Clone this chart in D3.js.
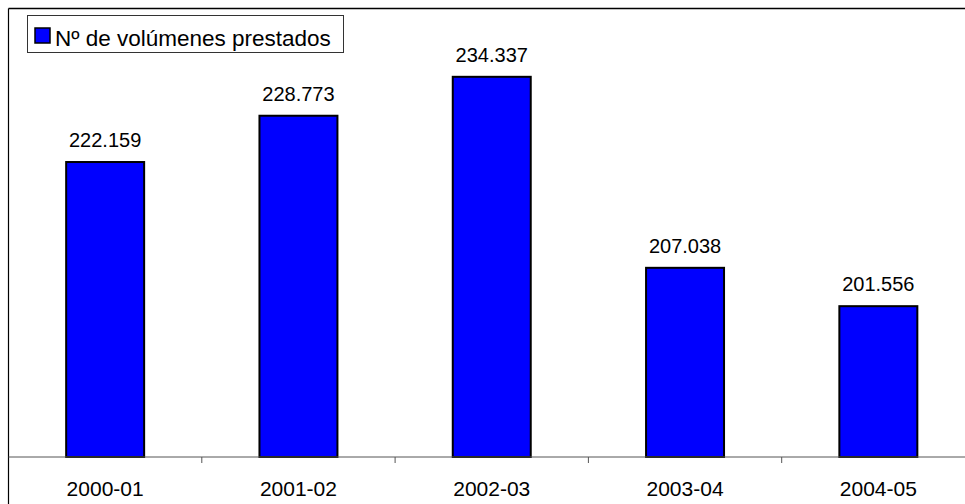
<!DOCTYPE html>
<html><head><meta charset="utf-8">
<script src="https://cdn.jsdelivr.net/npm/d3@7"></script>
<style>html,body{margin:0;padding:0;background:#fff;overflow:hidden}</style>
</head><body>
<svg id="c" width="965" height="504"></svg>
<script>
const categories = ["2000-01","2001-02","2002-03","2003-04","2004-05"];
const values = [222159, 228773, 234337, 207038, 201556];
const labels = ["222.159","228.773","234.337","207.038","201.556"];
const seriesName = "Nº de volúmenes prestados";

(function () {
const svg = d3.select("#c");
const font = "'Liberation Sans', Arial, sans-serif";
const plotLeft = 8.5, plotTop = 8.5, plotBottom = 457, bandW = 193.3;
const plotRight = plotLeft + bandW * categories.length;

const x = d3.scaleBand().domain(categories).range([plotLeft, plotRight]).paddingInner(0.5966).paddingOuter(0.2983);
const y = d3.scaleLinear().domain([180000, 244100]).range([plotBottom, plotTop]);

// frame lines
svg.append("line").attr("x1", plotLeft).attr("x2", 965).attr("y1", plotTop).attr("y2", plotTop)
  .attr("stroke", "#000").attr("stroke-width", 1.5);
svg.append("line").attr("x1", plotLeft).attr("x2", plotLeft).attr("y1", plotTop).attr("y2", 504)
  .attr("stroke", "#000").attr("stroke-width", 1.2);

// bars
svg.selectAll("rect.bar").data(values).join("rect")
  .attr("class", "bar")
  .attr("x", (d, i) => x(categories[i]))
  .attr("width", x.bandwidth())
  .attr("y", d => y(d))
  .attr("height", d => plotBottom - y(d))
  .attr("fill", "#0000FF").attr("stroke", "#000").attr("stroke-width", 2);

// x axis
const axis = svg.append("g").attr("transform", `translate(0,${plotBottom})`);
axis.append("line").attr("x1", plotLeft).attr("x2", 965).attr("y1", 0).attr("y2", 0)
  .attr("stroke", "#555").attr("stroke-width", 1);
const tickX = d3.range(1, categories.length).map(i => plotLeft + i * bandW);
axis.selectAll("line.tick").data(tickX).join("line").attr("class", "tick")
  .attr("x1", d => d).attr("x2", d => d).attr("y1", 0).attr("y2", 6)
  .attr("stroke", "#555").attr("stroke-width", 1);
axis.selectAll("text").data(categories).join("text")
  .attr("x", d => x(d) + x.bandwidth() / 2).attr("y", 39)
  .attr("text-anchor", "middle").attr("font-family", font).attr("font-size", 21)
  .attr("fill", "#000").text(d => d);

// value labels
svg.selectAll("text.val").data(values).join("text").attr("class", "val")
  .attr("x", (d, i) => x(categories[i]) + x.bandwidth() / 2)
  .attr("y", d => y(d) - 15)
  .attr("text-anchor", "middle").attr("font-family", font).attr("font-size", 20)
  .attr("fill", "#000").text((d, i) => labels[i]);

// legend
const lg = svg.append("g");
lg.append("rect").attr("x", 27.5).attr("y", 15.5).attr("width", 316).attr("height", 37)
  .attr("fill", "#fff").attr("stroke", "#333").attr("stroke-width", 1);
lg.append("rect").attr("x", 35).attr("y", 28).attr("width", 15).attr("height", 15)
  .attr("fill", "#0000FF").attr("stroke", "#000").attr("stroke-width", 1.5);
lg.append("text").attr("x", 55).attr("y", 45.5).attr("font-family", font).attr("font-size", 22.5)
  .attr("fill", "#000").text(seriesName);
})();
</script>
</body></html>
